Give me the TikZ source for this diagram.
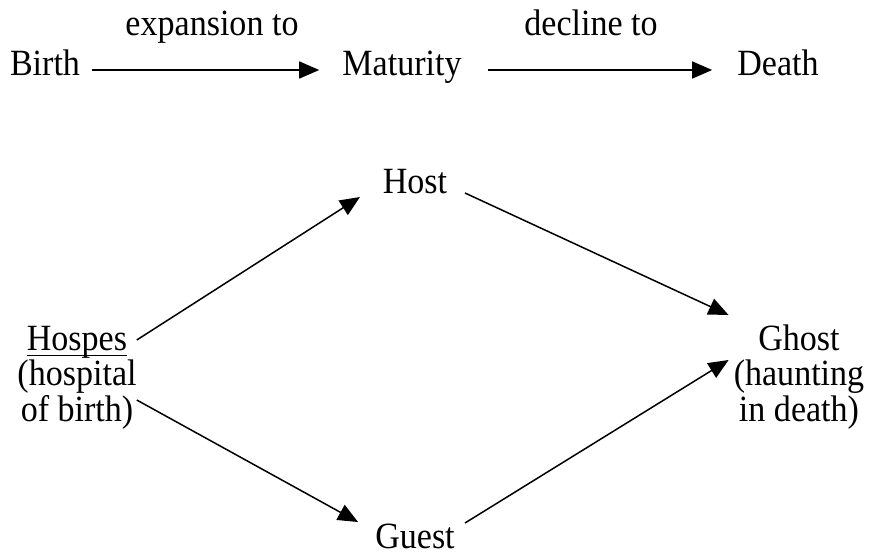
\documentclass[tikz,border=0pt]{standalone}
\usepackage{fontspec}
\setmainfont{Liberation Serif}[FakeStretch=0.92]
\usetikzlibrary{arrows.meta,calc}
\newcommand\myuline[1]{\setbox0\hbox{#1}\rlap{\rule[-6pt]{\wd0}{1.4pt}}\box0}
\begin{document}
\begin{tikzpicture}[x=1pt,y=-1pt,
  lbl/.style={font=\fontsize{37}{35.5}\selectfont, inner sep=0pt, anchor=base, align=center},
  arr/.style={line width=1.5pt, -{Triangle[length=20pt,width=17pt]}}]
\useasboundingbox (0,0) rectangle (871,555);
% top row
\node[lbl] (birth) at (45,75) {Birth};
\node[lbl] (mat) at (402,75) {Maturity};
\node[lbl] (death) at (778,75) {Death};
\node[lbl] (exp) at (212,35) {expansion to};
\node[lbl] (dec) at (591,35) {decline to};
\draw[arr] ($(birth.base east)+(12,-5)$) -- ($(mat.base west)+(-23,-5)$);
\draw[arr] ($(mat.base east)+(26,-5)$) -- ($(death.base west)+(-25,-5)$);
% diamond
\node[lbl] (host) at (415,193) {Host};
\node[lbl] (guest) at (415,548) {Guest};
\node[lbl] (hospes) at (77,421) {\myuline{Hospes}\\(hospital\\of birth)};
\node[lbl] (ghost) at (799,421) {Ghost\\(haunting\\in death)};
\coordinate (h1) at ($(hospes.base east)+(0,-81)$);
\coordinate (h2) at ($(hospes.base east)+(0,-21)$);
\coordinate (g1) at ($(ghost.base west)+(-5,-106)$);
\coordinate (g2) at ($(ghost.base west)+(-5,-61)$);
\draw[arr] (h1) -- ($(host.base)+(-55,4)$);
\draw[arr] ($(host.base)+(50,0)$) -- (g1);
\draw[arr] (h2) -- ($(guest.base)+(-57,-26)$);
\draw[arr] ($(guest.base)+(50,-25)$) -- (g2);
\end{tikzpicture}
\end{document}
